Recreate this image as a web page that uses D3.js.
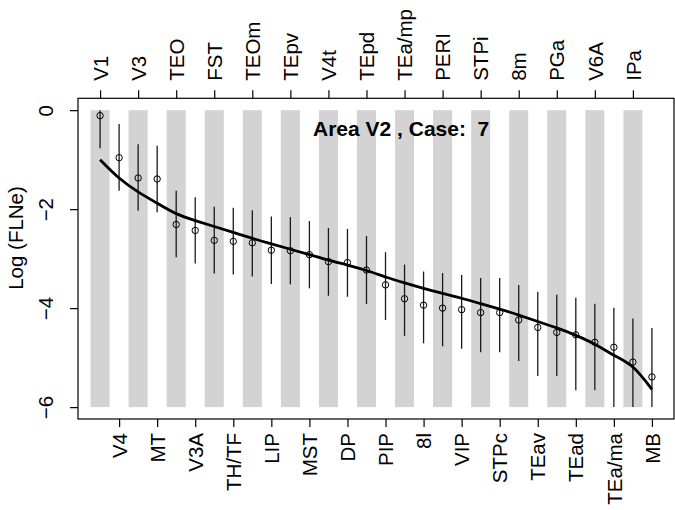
<!DOCTYPE html>
<html>
<head>
<meta charset="utf-8">
<script src="https://cdn.jsdelivr.net/npm/d3@7"></script>
<style>
  html, body { margin: 0; padding: 0; background: #fff; }
  svg text { font-family: "Liberation Sans", Arial, Helvetica, sans-serif; fill: #000; white-space: pre; }
</style>
</head>
<body>
<svg id="chart" width="675" height="510"></svg>
<script>
// Source areas projecting to V2, ordered by decreasing log fraction of labelled neurons
const areas = ["V1","V4","V3","MT","TEO","V3A","FST","TH/TF","TEOm","LIP",
  "TEpv","MST","V4t","DP","TEpd","PIP","TEa/mp","8l","PERI","VIP",
  "STPi","STPc","8m","TEav","PGa","TEad","V6A","TEa/ma","IPa","MB"];

// Observed mean log(FLNe) per area
const meanFLN = [-0.11,-0.96,-1.37,-1.39,-2.31,-2.43,-2.63,-2.65,-2.68,-2.83,
  -2.84,-2.92,-3.06,-3.08,-3.23,-3.53,-3.81,-3.94,-4.00,-4.03,
  -4.09,-4.09,-4.24,-4.39,-4.49,-4.54,-4.69,-4.79,-5.09,-5.39];

// Upper and lower ends of each interval
const upperFLN = [0.00,-0.28,-0.69,-0.72,-1.63,-1.76,-1.95,-1.97,-2.02,-2.15,
  -2.16,-2.24,-2.38,-2.40,-2.54,-2.87,-3.12,-3.26,-3.29,-3.33,
  -3.39,-3.39,-3.53,-3.67,-3.73,-3.79,-3.91,-3.99,-4.21,-4.40];
const lowerFLN = [-0.77,-1.63,-2.03,-2.06,-2.97,-3.10,-3.30,-3.32,-3.36,-3.51,
  -3.52,-3.60,-3.75,-3.77,-3.92,-4.24,-4.56,-4.71,-4.77,-4.82,
  -4.89,-4.89,-5.07,-5.37,-5.37,-5.66,-5.66,-6.00,-6.00,-6.00];

// Fitted model value at each rank
const fittedFLN = [-1.00,-1.37,-1.65,-1.88,-2.09,-2.23,-2.35,-2.47,-2.59,-2.70,
  -2.81,-2.92,-3.03,-3.13,-3.24,-3.37,-3.49,-3.60,-3.70,-3.80,
  -3.91,-4.02,-4.14,-4.27,-4.40,-4.55,-4.73,-4.95,-5.19,-5.64];

const yTicks = [0, -2, -4, -6];
const titleText = "Area V2 , Case:  7";
const yLabel = "Log (FLNe)";

const svg = d3.select("#chart");
const n = areas.length;
const pad = 0.04 * (n - 1);

const x = d3.scaleLinear().domain([1 - pad, n + pad]).range([78, 674]);
const y = d3.scaleLinear().domain([-6 - 0.24, 0 + 0.24]).range([419, 98.3]);

const ranks = d3.range(1, n + 1);

// Alternating grey bands behind every other area
svg.append("g").selectAll("rect")
  .data(ranks.filter(r => r % 2 === 1))
  .join("rect")
  .attr("x", r => x(r - 0.5))
  .attr("width", r => x(r + 0.5) - x(r - 0.5))
  .attr("y", y(0))
  .attr("height", y(-6) - y(0))
  .attr("fill", "#d3d3d3");

// Interval bars
svg.append("g").selectAll("line")
  .data(ranks)
  .join("line")
  .attr("x1", r => x(r)).attr("x2", r => x(r))
  .attr("y1", r => y(upperFLN[r - 1]))
  .attr("y2", r => y(lowerFLN[r - 1]))
  .attr("stroke", "#1a1a1a")
  .attr("stroke-width", 1.3);

// Fitted curve
const line = d3.line()
  .x(r => x(r))
  .y(r => y(fittedFLN[r - 1]))
  .curve(d3.curveNatural);
svg.append("path")
  .datum(ranks)
  .attr("d", line)
  .attr("fill", "none")
  .attr("stroke", "#000")
  .attr("stroke-width", 2.8);

// Observed means
svg.append("g").selectAll("circle")
  .data(ranks)
  .join("circle")
  .attr("cx", r => x(r))
  .attr("cy", r => y(meanFLN[r - 1]))
  .attr("r", 3.2)
  .attr("fill", "none")
  .attr("stroke", "#000")
  .attr("stroke-width", 1);

// Plot frame
svg.append("rect")
  .attr("x", 78).attr("y", 98.3)
  .attr("width", 674 - 78).attr("height", 419 - 98.3)
  .attr("fill", "none")
  .attr("stroke", "#000")
  .attr("stroke-width", 1.2);

const fontSize = 20.5;

// Bottom axis: even ranks
const bottomAxis = d3.axisBottom(x)
  .tickValues(ranks.filter(r => r % 2 === 0))
  .tickSize(8)
  .tickFormat(r => areas[r - 1]);
const gB = svg.append("g").attr("transform", "translate(0,419)").call(bottomAxis);
gB.select(".domain").remove();
gB.selectAll(".tick line").attr("stroke", "#000").attr("stroke-width", 1.2);
gB.selectAll(".tick text")
  .attr("font-size", fontSize)
  .attr("font-family", null)
  .attr("fill", "#000")
  .attr("text-anchor", "end")
  .attr("transform", "translate(0,14) rotate(-90)")
  .attr("x", 0).attr("y", 0)
  .attr("dy", "0.35em");

// Top axis: odd ranks
const topAxis = d3.axisTop(x)
  .tickValues(ranks.filter(r => r % 2 === 1))
  .tickSize(8)
  .tickFormat(r => areas[r - 1]);
const gT = svg.append("g").attr("transform", "translate(0,98.3)").call(topAxis);
gT.select(".domain").remove();
gT.selectAll(".tick line").attr("stroke", "#000").attr("stroke-width", 1.2);
gT.selectAll(".tick text")
  .attr("font-size", fontSize)
  .attr("font-family", null)
  .attr("fill", "#000")
  .attr("text-anchor", "start")
  .attr("transform", "translate(0,-17.5) rotate(-90)")
  .attr("x", 0).attr("y", 0)
  .attr("dy", "0.35em");

// Left axis
const leftAxis = d3.axisLeft(y)
  .tickValues(yTicks)
  .tickSize(8)
  .tickFormat(v => v < 0 ? "\u2212" + Math.abs(v) : String(v));
const gL = svg.append("g").attr("transform", "translate(78,0)").call(leftAxis);
gL.select(".domain").remove();
gL.selectAll(".tick line").attr("stroke", "#000").attr("stroke-width", 1.2);
gL.selectAll(".tick text")
  .attr("font-size", fontSize)
  .attr("font-family", null)
  .attr("fill", "#000")
  .attr("text-anchor", "middle")
  .attr("transform", "translate(-25,0) rotate(-90)")
  .attr("x", 0).attr("y", 0)
  .attr("dy", 0);

// Axis title
svg.append("text")
  .attr("transform", "translate(23,238) rotate(-90)")
  .attr("text-anchor", "middle")
  .attr("font-size", fontSize)
  .text(yLabel);

// Panel title
svg.append("text")
  .attr("x", 313).attr("y", 136)
  .attr("font-size", 21)
  .attr("font-weight", "bold")
  .attr("xml:space", "preserve")
  .text(titleText);
</script>
</body>
</html>
